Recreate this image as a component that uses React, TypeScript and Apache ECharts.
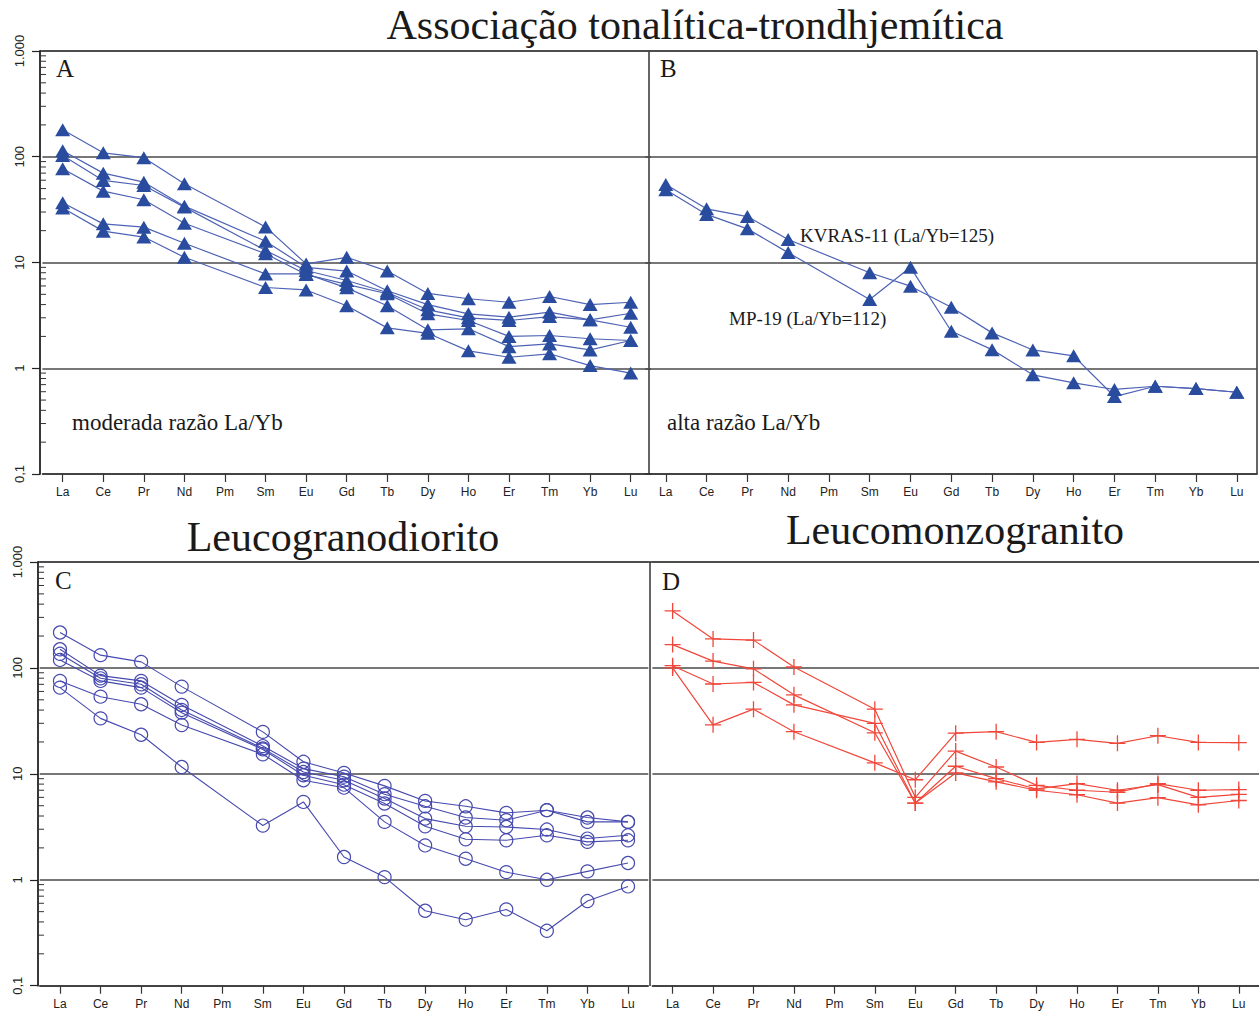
import React, { useEffect, useRef } from "react";
import * as echarts from "echarts";

const ELEMENTS = ["La", "Ce", "Pr", "Nd", "Pm", "Sm", "Eu", "Gd", "Tb", "Dy", "Ho", "Er", "Tm", "Yb", "Lu"];
const Y_LABELS: Record<string, string> = { "0.1": "0,1", "1": "1", "10": "10", "100": "100", "1000": "1.000" };
const MINOR_TICKS = [0.2, 0.3, 0.4, 0.5, 0.6, 0.7, 0.8, 0.9, 2, 3, 4, 5, 6, 7, 8, 9, 20, 30, 40, 50, 60, 70, 80, 90, 200, 300, 400, 500, 600, 700, 800, 900];

// Panel A – moderada razão La/Yb
const A1 = [180, 109, 98, 55.6, null, 21.7, 9.7, 11.2, 8.3, 5.1, 4.54, 4.21, 4.77, 4.0, 4.21];
const A2 = [114, 70, 57.5, 34.1, null, 15.9, 9.0, 8.3, 5.4, 4.0, 3.27, 3.04, 3.39, 2.87, 3.31];
const A3 = [103, 59.7, 53.5, 33.4, null, 13.0, 8.4, 6.76, 5.2, 3.57, 3.0, 2.83, 3.08, 2.87, 2.44];
const A4 = [77, 47.3, 39.2, 23.5, null, 12.1, 7.7, 6.2, 5.06, 3.27, 2.83, 2.0, 2.04, 1.9, 1.83];
const A5 = [36.7, 23.2, 21.6, 15.2, null, 7.8, 7.8, 5.76, 3.9, 2.31, 2.36, 1.6, 1.7, 1.49, 1.83];
const A6 = [32.7, 19.8, 17.4, 11.2, null, 5.8, 5.5, 3.9, 2.41, 2.14, 1.46, 1.27, 1.37, 1.06, 0.9];

// Panel B – alta razão La/Yb
const KVRAS11 = [54.7, 32.2, 27.2, 16.5, null, 8.0, 5.97, 3.78, 2.16, 1.49, 1.31, 0.54, 0.676, 0.643, 0.593];
const MP19 = [48.7, 28.5, 20.8, 12.4, null, 4.47, 9.0, 2.24, 1.5, 0.867, 0.728, 0.63, 0.676, 0.643, 0.593];

// Panel C – Leucogranodiorito
const C1 = [216, 132, 114, 66.6, null, 24.9, 13.0, 10.2, 7.7, 5.55, 4.94, 4.28, 4.54, 3.87, 3.52];
const C2 = [150, 84.6, 75.4, 44.7, null, 18.3, 11.2, 9.4, 6.43, 4.94, 3.87, 3.65, 4.54, 3.52, 3.52];
const C3 = [136, 79.8, 70.1, 40.1, null, 17.4, 10.4, 8.7, 5.85, 3.78, 3.2, 3.15, 2.98, 2.45, 2.63];
const C4 = [119, 75.4, 65.2, 37.8, null, 17.0, 9.7, 7.9, 5.25, 3.2, 2.41, 2.36, 2.63, 2.28, 2.36];
const C5 = [75.4, 53.5, 45.4, 28.9, null, 15.3, 8.7, 7.4, 3.52, 2.11, 1.58, 1.18, 1.0, 1.2, 1.44];
const C6 = [65.2, 33.4, 23.4, 11.6, null, 3.25, 5.43, 1.64, 1.06, 0.51, 0.42, 0.525, 0.33, 0.63, 0.865];

// Panel D – Leucomonzogranito
const D1 = [345, 188, 183, 102, null, 40.8, 6.0, 16.4, 11.6, 7.8, 7.0, 6.7, 8.1, 7.0, 7.1];
const D2 = [166, 116, 98, 55.7, null, 24.4, 5.3, 11.8, 9.0, 7.2, 8.1, 7.0, 7.9, 6.0, 6.4];
const D3 = [105, 70.5, 73, 44.8, null, 30, 5.3, 10.2, 8.4, 7.0, 6.35, 5.3, 5.96, 5.1, 5.6];
const D4 = [100, 29, 40.8, 25, null, 12.7, 8.8, 24.2, 25, 19.8, 21.2, 19.4, 22.9, 19.8, 19.7];

const GRIDS = [
  { left: 42.4, top: 51, width: 608.6, height: 423 },
  { left: 645.4, top: 51, width: 611.8, height: 423 },
  { left: 39.7, top: 562, width: 608.6, height: 423.7 },
  { left: 652.4, top: 562, width: 609.8, height: 423.7 },
];
const Y_OFFSETS = [2.4, 0, 1.7, 0];

const BLUE_TRI = "#2a4c9f";
const BLUE_LINE = "#4d62b4";
const CIRCLE_BLUE = "#4649ad";
const RED = "#f0473a";
const SERIF = '"Liberation Serif", "Times New Roman", serif';
const SANS = '"Liberation Sans", Arial, sans-serif';

function triSeries(data: (number | null)[], idx: number) {
  return {
    type: "line",
    xAxisIndex: idx,
    yAxisIndex: idx,
    data,
    connectNulls: true,
    symbol: "triangle",
    symbolSize: [15, 13],
    itemStyle: { color: BLUE_TRI },
    lineStyle: { color: BLUE_LINE, width: 1.2 },
    z: 3,
  };
}
function circleSeries(data: (number | null)[], idx: number) {
  return {
    type: "line",
    xAxisIndex: idx,
    yAxisIndex: idx,
    data,
    connectNulls: true,
    symbol: "circle",
    symbolSize: 13,
    itemStyle: { color: "rgba(255,255,255,0)", borderColor: CIRCLE_BLUE, borderWidth: 1.2 },
    lineStyle: { color: CIRCLE_BLUE, width: 1.1 },
    z: 3,
  };
}
function plusSeries(data: (number | null)[], idx: number) {
  return {
    type: "line",
    xAxisIndex: idx,
    yAxisIndex: idx,
    data,
    connectNulls: true,
    symbol: "path://M8 0 L8 16 M0 8 L16 8",
    symbolSize: 16,
    itemStyle: { color: "rgba(0,0,0,0)", borderColor: RED, borderWidth: 1.3 },
    lineStyle: { color: RED, width: 1.2 },
    z: 3,
  };
}
function minorTickSeries(idx: number, offset: number) {
  return {
    type: "custom",
    xAxisIndex: idx,
    yAxisIndex: idx,
    silent: true,
    data: MINOR_TICKS.map((v) => [0, v]),
    encode: { x: 0, y: 1 },
    renderItem: (params: any, api: any) => {
      const y = api.coord([0, api.value(1)])[1];
      const x0 = params.coordSys.x - offset;
      return {
        type: "line",
        shape: { x1: x0, y1: y, x2: x0 + 6, y2: y },
        style: { stroke: "#333", lineWidth: 1 },
      };
    },
    z: 4,
  };
}

function text(str: string, x: number, y: number, size: number, align = "left") {
  return {
    type: "text",
    x,
    y,
    silent: true,
    style: {
      text: str,
      font: `normal ${size}px ${SERIF}`,
      fill: "#1a1a1a",
      textAlign: align,
      textVerticalAlign: "middle",
    },
  };
}
function vline(x: number, y1: number, y2: number) {
  return { type: "line", silent: true, shape: { x1: x, y1, x2: x, y2 }, style: { stroke: "#333", lineWidth: 1.5 } };
}
function hline(y: number, x1: number, x2: number) {
  return { type: "line", silent: true, shape: { x1, y1: y, x2, y2: y }, style: { stroke: "#222", lineWidth: 1.5 } };
}

export default function App() {
  const ref = useRef<HTMLDivElement>(null);
  useEffect(() => {
    document.body.style.margin = "0";
    if (!ref.current) return;
    const chart = echarts.init(ref.current, undefined, { renderer: "svg" });
    const hasYAxis = [true, false, true, false];
    const option: any = {
      animation: false,
      backgroundColor: "#ffffff",
      grid: GRIDS.map((g) => ({ ...g, containLabel: false })),
      xAxis: GRIDS.map((_, i) => ({
        type: "category",
        gridIndex: i,
        data: ELEMENTS,
        boundaryGap: true,
        axisLine: { show: true, lineStyle: { color: "#333", width: 1.5 } },
        axisTick: { show: true, alignWithLabel: true, length: 8, lineStyle: { color: "#333", width: 1.2 } },
        axisLabel: { interval: 0, fontSize: 12, color: "#222", margin: 12, fontFamily: SANS },
        splitLine: { show: false },
      })),
      yAxis: GRIDS.map((_, i) => ({
        type: "log",
        logBase: 10,
        gridIndex: i,
        min: 0.1,
        max: 1000,
        offset: Y_OFFSETS[i],
        axisLine: { show: hasYAxis[i], lineStyle: { color: "#222", width: 1.8 } },
        axisTick: { show: hasYAxis[i], inside: false, length: 8, lineStyle: { color: "#222", width: 1.2 } },
        axisLabel: {
          show: hasYAxis[i],
          rotate: 90,
          fontSize: 13,
          color: "#222",
          margin: 14,
          fontFamily: SANS,
          formatter: (v: number) => {
            const key = v < 0.5 ? "0.1" : String(Math.round(v));
            return Y_LABELS[key] ?? String(v);
          },
        },
        splitLine: { show: true, lineStyle: { color: "#4a4a4a", width: 1.5 } },
      })),
      series: [
        ...[A1, A2, A3, A4, A5, A6].map((d) => triSeries(d, 0)),
        ...[KVRAS11, MP19].map((d) => triSeries(d, 1)),
        ...[C1, C2, C3, C4, C5, C6].map((d) => circleSeries(d, 2)),
        ...[D1, D2, D3, D4].map((d) => plusSeries(d, 3)),
        minorTickSeries(0, Y_OFFSETS[0]),
        minorTickSeries(2, Y_OFFSETS[2]),
      ],
      graphic: [
        hline(51, 40, 1257),
        hline(562, 38, 1259),
        vline(649, 51, 474),
        vline(1257, 51, 474),
        vline(650, 562, 986),
        text("Associação tonalítica-trondhjemítica", 695, 25, 42, "center"),
        text("Leucogranodiorito", 343, 537, 42, "center"),
        text("Leucomonzogranito", 955, 530, 42, "center"),
        text("A", 56, 68, 25),
        text("B", 660, 68, 25),
        text("C", 55, 580, 25),
        text("D", 662, 581, 25),
        text("moderada razão La/Yb", 72, 422, 23),
        text("alta razão La/Yb", 667, 422, 23),
        text("KVRAS-11 (La/Yb=125)", 800, 235, 19),
        text("MP-19 (La/Yb=112)", 729, 318, 19),
      ],
    };
    chart.setOption(option);
    return () => chart.dispose();
  }, []);
  return <div ref={ref} style={{ width: 1259, height: 1011 }} />;
}
